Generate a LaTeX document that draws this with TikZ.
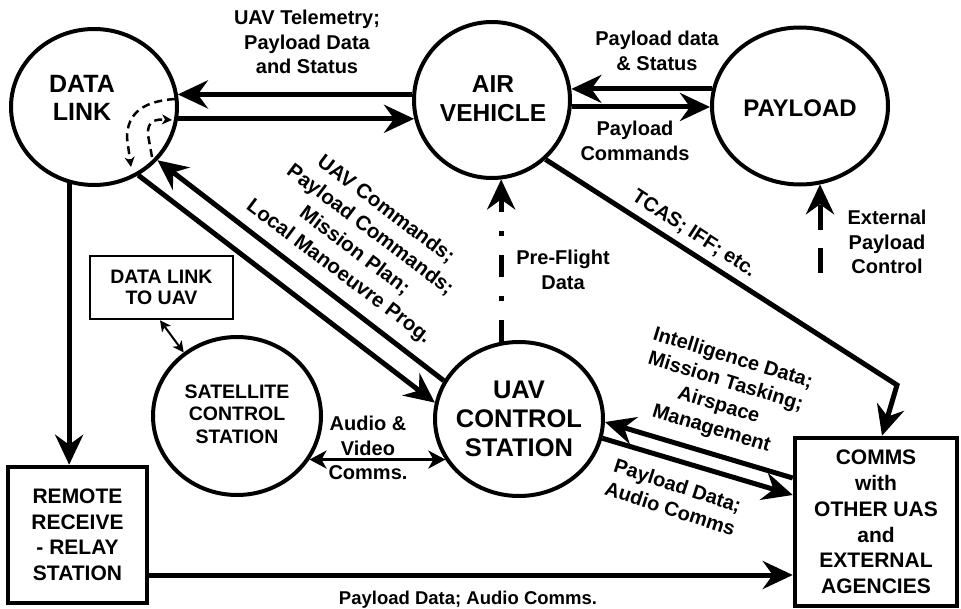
\documentclass[tikz,border=0pt]{standalone}
\usepackage{fontspec}
\setmainfont{Liberation Sans}
\usetikzlibrary{arrows.meta,shapes.geometric}
\begin{document}
\begin{tikzpicture}[x=1pt,y=-1pt,
  circ/.style={ellipse,draw,line width=4pt,inner sep=0pt},
  bigtxt/.style={align=center,inner sep=0pt,font=\fontsize{25}{28}\selectfont\bfseries},
  midtxt/.style={align=center,inner sep=0pt,font=\fontsize{19.5}{22.5}\selectfont\bfseries},
  box/.style={rectangle,draw,line width=4.5pt,inner sep=0pt,align=center,font=\fontsize{21}{25.5}\selectfont\bfseries},
  lbl/.style={align=center,inner sep=0pt,font=\fontsize{20}{24.5}\selectfont\bfseries},
  flow/.style={line width=5pt,-{Stealth[length=30pt,width=28pt,inset=10pt]}},
  dualthin/.style={line width=3pt,{Stealth[length=17pt,width=18pt,inset=5pt]}-{Stealth[length=17pt,width=18pt,inset=5pt]}},
  dualfine/.style={line width=2pt,{Stealth[length=11pt,width=11pt,inset=3pt]}-{Stealth[length=11pt,width=11pt,inset=3pt]}},
  dashcurve/.style={line width=2.5pt,dash pattern=on 8pt off 5pt,-{Stealth[length=10pt,width=10pt,inset=3pt]}}
]
\useasboundingbox (0,0) rectangle (961,609);

% main nodes
\node[circ,minimum width=166pt,minimum height=156pt] (dl) at (94,107) {};
\node[bigtxt] (dlt) at (82,98) {DATA\\LINK};
\node[circ,minimum width=156pt,minimum height=156pt] (av) at (492,100) {};
\node[bigtxt,font=\fontsize{24.5}{29}\selectfont\bfseries] (avt) at (493,99) {AIR\\VEHICLE};
\node[circ,minimum width=176pt,minimum height=157pt] (pl) at (800,106) {};
\node[bigtxt,font=\fontsize{24}{28}\selectfont\bfseries] (plt) at (800,108) {PAYLOAD};
\node[circ,minimum width=168pt,minimum height=154pt] (ucs) at (519,419) {};
\node[bigtxt,font=\fontsize{25.5}{29}\selectfont\bfseries] (ucst) at (519,419) {UAV\\CONTROL\\STATION};
\node[circ,minimum width=168pt,minimum height=158pt] (sat) at (237,416) {};
\node[midtxt] (satt) at (237,414) {SATELLITE\\CONTROL\\STATION};

\node[box,line width=2.5pt,minimum width=143pt,minimum height=63pt,font=\fontsize{19.5}{21}\selectfont\bfseries] (dlu) at (161.5,287.5) {DATA LINK\\TO UAV};
\node[box,minimum width=139pt,minimum height=136pt] (rr) at (77.5,535) {REMOTE\\RECEIVE\\- RELAY\\STATION};
\node[box,minimum width=162pt,minimum height=168pt,font=\fontsize{21}{25.7}\selectfont\bfseries] (cm) at (876,522) {COMMS\\with\\OTHER UAS\\and\\EXTERNAL\\AGENCIES};

% connectors
\draw[flow] (av.176) -- (dl.9 |- av.176);
\draw[flow] (dl.-8) -- (av.193 |- dl.-8);
\draw[flow] (pl.169) -- (av.7 |- pl.169);
\draw[flow] (av.-5) -- (pl.180 |- av.-5);
\draw[flow] (ucs.153) -- (dl.-40);
\draw[flow] (dl.-57) -- (ucs.169);
\draw[flow] (dl.-108) -- (dl.-108 |- rr.north);
\draw[flow] ([yshift=-40pt]rr.east) -- ([yshift=-40pt]rr.east -| cm.west);
\coordinate (bend) at (897,385);
\draw[flow] (av.-48) -- (bend) -- ([xshift=6pt]cm.north);
\draw[flow] ([yshift=44pt]cm.west) -- (ucs.-2);
\draw[flow] (ucs.-13) -- ([yshift=27pt]cm.west);
\draw[flow,dash pattern=on 22pt off 19pt on 5pt off 19pt] (ucs.103) -- (ucs.103 |- av.-83);
\coordinate (ext) at (820,273);
\draw[flow,dash pattern=on 25pt off 18pt] (ext) -- (ext |- pl.-75);
\draw[dualthin] (sat.-31) -- (sat.-31 -| ucs.209);
\draw[dualfine] ([xshift=-1.5pt]dlu.south) -- (sat.130);

% internal data link routing
\coordinate (da1) at (175,99);
\coordinate (da2) at (131,167);
\coordinate (db1) at (152,157);
\coordinate (db2) at (172,120);
\draw[dashcurve] (da1) .. controls (145,101) and (127,112) .. (127,138) -- (da2);
\draw[dashcurve] (db1) -- (148,135) .. controls (147,121) and (155,119) .. (db2);

% labels
\node[lbl] (l1) at (307,42) {UAV Telemetry;\\Payload Data\\and Status};
\node[lbl] (l2) at (657,51) {Payload data\\\& Status};
\node[lbl] (l3) at (635,141) {Payload\\Commands};
\node[lbl,rotate=-37,font=\fontsize{20.5}{26}\selectfont\bfseries] (l4) at (362,241) {UAV Commands;\\Payload Commands;\\Mission Plan;\\Local Manoeuvre Prog.};
\node[lbl] (l5) at (563,270) {Pre-Flight\\Data};
\node[lbl,rotate=-33] (l6) at (694,234) {TCAS; IFF; etc.};
\node[lbl] (l7) at (887,242) {External\\Payload\\Control};
\node[lbl,rotate=-17] (l8) at (722,394) {Intelligence Data;\\Mission Tasking;\\Airspace\\Management};
\node[lbl,rotate=-18] (l9) at (674,497) {Payload Data;\\Audio Comms};
\node[lbl] (l10) at (368,448) {Audio \&\\Video\\Comms.};
\node[lbl,font=\fontsize{18.5}{22}\selectfont\bfseries] (l11) at (468,600) {Payload Data; Audio Comms.};
\end{tikzpicture}
\end{document}
